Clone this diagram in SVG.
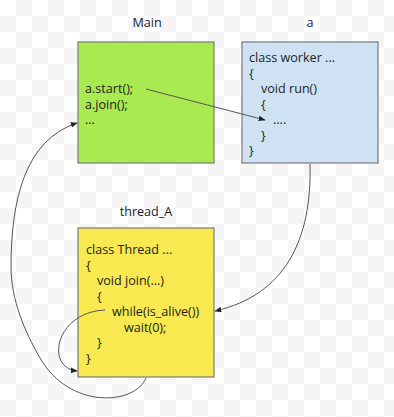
<svg xmlns="http://www.w3.org/2000/svg" width="394" height="417" viewBox="0 0 394 417">
<style>
.box{stroke:#7a7a7a;stroke-width:1.2}
.t{font-family:"Open Sans","Liberation Sans",sans-serif;font-size:12.6px;fill:#222}
.lbl{font-family:"Open Sans","Liberation Sans",sans-serif;font-size:12.6px;fill:#1a1a2a;text-anchor:middle}
.c{fill:none;stroke:#555;stroke-width:1}
</style>
<defs>
<pattern id="chk" patternUnits="userSpaceOnUse" width="32" height="32">
<rect width="32" height="32" fill="#ffffff"/>
<rect x="16" y="0" width="16" height="16" fill="#f5f5f5"/>
<rect x="0" y="16" width="16" height="16" fill="#f5f5f5"/>
</pattern>
<marker id="ah" viewBox="0 0 10 10" refX="9" refY="5" markerWidth="7" markerHeight="7" orient="auto" markerUnits="userSpaceOnUse">
<path d="M0,1 L10,5 L0,9 Z" fill="#222"/>
</marker>
</defs>
<rect width="394" height="417" fill="url(#chk)"/>
<g id="main">
<text class="lbl" x="147" y="27">Main</text>
<rect class="box" x="78" y="42" width="136" height="121" fill="#a9ea50"/>
<text class="t" x="85" y="93">a.start();</text>
<text class="t" x="85" y="108.5">a.join();</text>
<text class="t" x="85" y="124">...</text>
</g>
<g id="a">
<text class="lbl" x="310" y="27">a</text>
<rect class="box" x="242" y="42" width="136" height="121" fill="#cfe2f3"/>
<text class="t" x="249" y="62">class worker ...</text>
<text class="t" x="249" y="77.5">{</text>
<text class="t" x="261" y="93">void run()</text>
<text class="t" x="261" y="108.5">{</text>
<text class="t" x="273" y="124">....</text>
<text class="t" x="261" y="139.5">}</text>
<text class="t" x="249" y="155">}</text>
</g>
<g id="thread_A">
<text class="lbl" x="146" y="216">thread_A</text>
<rect class="box" x="78" y="228" width="136" height="149" fill="#f7e94f"/>
<text class="t" x="86" y="254">class Thread ...</text>
<text class="t" x="86" y="269.5">{</text>
<text class="t" x="97" y="285">void join(...)</text>
<text class="t" x="97" y="300.5">{</text>
<text class="t" x="112" y="316">while(is_alive())</text>
<text class="t" x="124" y="331.5">wait(0);</text>
<text class="t" x="97" y="347">}</text>
<text class="t" x="86" y="362.5">}</text>
</g>
<g id="connectors">
<path class="c" d="M146,89 L265,120" marker-end="url(#ah)"/>
<path class="c" d="M310,164 C312,240 285,295 215,311" marker-end="url(#ah)"/>
<path class="c" d="M105,310 C55,312 45,368 77,371" marker-end="url(#ah)"/>
<path class="c" d="M146,378 C135,405 70,410 40,358 C25,332 11,300 11,267 C11,200 25,140 77,123" marker-end="url(#ah)"/>
</g>
</svg>
